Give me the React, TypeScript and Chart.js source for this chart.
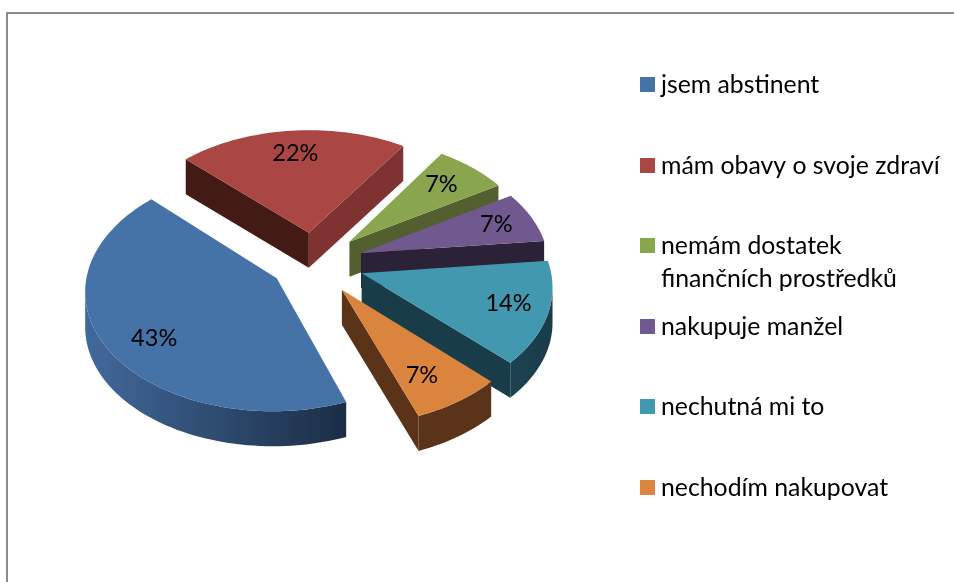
import React, { useEffect, useRef } from "react";
import { Chart, registerables } from "chart.js";

Chart.register(...registerables);

const categories: (string | string[])[] = [
  "jsem abstinent",
  "mám obavy o svoje zdraví",
  ["nemám dostatek", "finančních prostředků"],
  "nakupuje manžel",
  "nechutná mi to",
  "nechodím nakupovat",
];
const shares = [43, 22, 7, 7, 14, 7];

const topColors = ["#4572a7", "#aa4643", "#89a54e", "#71588f", "#4198af", "#db843d"];
const cutColors = [
  ["#2b466a", "#2b466a"],
  ["#431a16", "#7e3330"],
  ["#6b7d39", "#535f2f"],
  ["#46365a", "#2c2238"],
  ["#193c49", "#193c49"],
  ["#5b3318", "#5b3318"],
];
const rimColors = [
  ["#42699c", "#1b2d45"],
  ["#7e3330", "#431a16"],
  ["#535f2f", "#535f2f"],
  ["#2c2238", "#2c2238"],
  ["#1c4251", "#193c49"],
  ["#5b3318", "#5b3318"],
];
const explode = [44, 50, 50, 50, 50, 50];
const drawOrder = [1, 2, 3, 4, 5, 0];
const labelAngleShift = [-5, 0, -1, 0, -1, 3];
const labelRadius = [0.77, 0.76, 0.75, 0.79, 0.79, 0.76];
const legendRowY = [84, 165, 245, 326, 406, 487];

const TILT = 0.625;
const PERSPECTIVE = 0.0005;
const DEPTH = 35;

type Pt = { x: number; y: number };

const pie3d = {
  id: "pie3d",
  beforeDatasetsDraw(chart: any) {
    const ctx: CanvasRenderingContext2D = chart.ctx;
    const arcs = chart.getDatasetMeta(0).data;
    const project = (u: number, v: number): Pt => {
      const w = 1 - PERSPECTIVE * v;
      return { x: arcs[0].x + u / w, y: arcs[0].y + (TILT * v) / w };
    };
    const wall = (run: Pt[], fill: any) => {
      ctx.fillStyle = fill;
      ctx.beginPath();
      run.forEach((p, n) => (n ? ctx.lineTo(p.x, p.y) : ctx.moveTo(p.x, p.y)));
      for (let n = run.length - 1; n >= 0; n--) ctx.lineTo(run[n].x, run[n].y + DEPTH);
      ctx.closePath();
      ctx.fill();
    };
    for (const i of drawOrder) {
      const arc = arcs[i];
      const { startAngle, endAngle, outerRadius } = arc;
      const mid = (startAngle + endAngle) / 2;
      const off = arc.options.offset;
      const ou = off * Math.cos(mid);
      const ov = off * Math.sin(mid);
      const rimPoints: Pt[] = [];
      const steps = Math.max(8, Math.round((endAngle - startAngle) / 0.03));
      for (let s = 0; s <= steps; s++) {
        const a = startAngle + ((endAngle - startAngle) * s) / steps;
        rimPoints.push(project(ou + outerRadius * Math.cos(a), ov + outerRadius * Math.sin(a)));
      }
      const apex = project(ou, ov);
      const first = rimPoints[0];
      const last = rimPoints[rimPoints.length - 1];
      if (first.x < apex.x) wall([apex, first], cutColors[i][0]);
      if (apex.x < last.x) wall([last, apex], cutColors[i][1]);
      const xs = rimPoints.map((p) => p.x);
      const grad = ctx.createLinearGradient(Math.min(...xs), 0, Math.max(...xs), 0);
      grad.addColorStop(0, rimColors[i][0]);
      grad.addColorStop(1, rimColors[i][1]);
      let run: Pt[] = [];
      for (let s = 0; s < steps; s++) {
        if (rimPoints[s + 1].x < rimPoints[s].x) {
          if (!run.length) run.push(rimPoints[s]);
          run.push(rimPoints[s + 1]);
        } else if (run.length) {
          wall(run, grad);
          run = [];
        }
      }
      if (run.length) wall(run, grad);
      ctx.fillStyle = arc.options.backgroundColor;
      ctx.beginPath();
      ctx.moveTo(apex.x, apex.y);
      rimPoints.forEach((p) => ctx.lineTo(p.x, p.y));
      ctx.closePath();
      ctx.fill();
    }
    ctx.fillStyle = "#000";
    ctx.font = "23.5px Lato";
    ctx.textAlign = "center";
    ctx.textBaseline = "middle";
    arcs.forEach((arc: any, i: number) => {
      const mid = (arc.startAngle + arc.endAngle) / 2;
      const a = mid + (labelAngleShift[i] * Math.PI) / 180;
      const off = arc.options.offset;
      const r = arc.outerRadius * labelRadius[i];
      const p = project(off * Math.cos(mid) + r * Math.cos(a), off * Math.sin(mid) + r * Math.sin(a));
      ctx.fillText(`${chart.data.datasets[0].data[i]}%`, p.x, p.y);
    });
    return false;
  },
  afterDraw(chart: any) {
    const ctx: CanvasRenderingContext2D = chart.ctx;
    ctx.save();
    ctx.font = "24.8px Lato";
    ctx.textAlign = "left";
    ctx.textBaseline = "middle";
    chart.data.labels.forEach((label: string | string[], i: number) => {
      const y = legendRowY[i];
      ctx.fillStyle = topColors[i];
      ctx.fillRect(640, y - 7, 15, 15);
      ctx.fillStyle = "#000";
      const lines = Array.isArray(label) ? label : [label];
      lines.forEach((line, l) => ctx.fillText(line, 661, y + 1 + l * 33));
    });
    ctx.restore();
  },
};

export default function App() {
  const ref = useRef<HTMLCanvasElement>(null);
  useEffect(() => {
    const chart = new Chart(ref.current!, {
      type: "pie",
      data: {
        labels: categories as any,
        datasets: [
          { data: shares, backgroundColor: topColors, borderWidth: 0, offset: explode } as any,
        ],
      },
      options: {
        animation: false,
        responsive: false,
        rotation: 159.5,
        radius: 188,
        layout: { padding: { left: 0, top: 0, right: 326, bottom: 56 } },
        plugins: { legend: { display: false }, tooltip: { enabled: false } },
      } as any,
      plugins: [pie3d],
    });
    return () => chart.destroy();
  }, []);
  return (
    <div style={{ position: "fixed", left: 0, top: 0, width: 954, height: 582, background: "#fff", overflow: "hidden" }}>
      <div style={{ position: "absolute", left: 6, top: 12, width: 948, height: 570, borderLeft: "2px solid #8c8c8c", borderTop: "2px solid #8c8c8c" }} />
      <canvas ref={ref} width={954} height={582} style={{ position: "absolute", left: 0, top: 0, display: "block" }} />
    </div>
  );
}
